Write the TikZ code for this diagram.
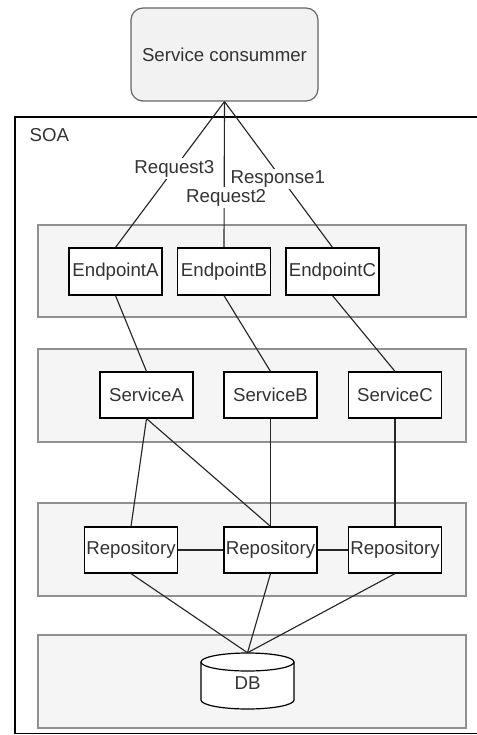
\documentclass[tikz,border=0pt]{standalone}
\usepackage{fontspec}
\setmainfont{Liberation Sans}
\definecolor{txt}{HTML}{333333}
\definecolor{panelfill}{HTML}{F5F5F5}
\definecolor{panelline}{HTML}{909090}
\definecolor{consfill}{HTML}{F2F2F2}
\definecolor{consline}{HTML}{666666}
\def\px{0.75pt}
\tikzset{
  every node/.style={font=\fontsize{14}{16}\selectfont, text=txt},
  panel/.style={draw=panelline, fill=panelfill, line width=0.9pt, minimum width=428*\px, inner sep=0pt},
  comp/.style={draw=black, fill=white, line width=0.9pt, minimum width=93*\px, minimum height=46*\px, inner sep=0pt},
  consumer/.style={draw=consline, fill=consfill, line width=0.9pt, rounded corners=9pt, minimum width=187*\px, minimum height=93*\px},
  link/.style={draw=black!85, line width=0.85pt},
  lbl/.style={fill=white, inner sep=1.5pt},
}
\begin{document}
\begin{tikzpicture}[x=\px, y=\px]
\useasboundingbox (0,0) rectangle (477,-735);
\fill[white] (0,0) rectangle (477,-735);

% outer SOA frame, running off the right edge
\begin{scope}
  \clip (0,0) rectangle (477,-735);
  \draw[black, line width=0.9pt] (15,-117) rectangle (600,-733.5);
\end{scope}
\node[anchor=west] (soa) at (25,-135) {SOA};

% layer panels
\node[panel, minimum height=92*\px] (layer1) at (252,-271) {};
\node[panel, minimum height=93*\px] (layer2) at (252,-395.5) {};
\node[panel, minimum height=93*\px] (layer3) at (252,-549.5) {};
\node[panel, minimum height=93*\px] (layer4) at (252,-681.5) {};

% service consumer
\node[consumer] (cons) at (224.5,-54.5) {Service consummer};

% endpoints
\node[comp, minimum height=47*\px] (epA) at (115.5,-271.5) {EndpointA};
\node[comp, minimum height=47*\px] (epB) at (224,-271.5) {EndpointB};
\node[comp, minimum height=47*\px] (epC) at (332.5,-271.5) {EndpointC};

% services
\node[comp] (svA) at (146.5,-395) {ServiceA};
\node[comp] (svB) at (270.5,-395) {ServiceB};
\node[comp] (svC) at (395,-395) {ServiceC};

% repositories
\node[comp] (repA) at (131,-550) {Repository};
\node[comp] (repB) at (270.5,-550) {Repository};
\node[comp] (repC) at (395,-550) {Repository};

% database cylinder
\node[minimum width=93*\px, minimum height=56*\px, inner sep=0pt] (db) at (247.5,-681) {};
\draw[black, line width=0.9pt, fill=white]
  (201,-662) -- (201,-700) arc (180:360:34.875pt and 6.75pt) -- (294,-662)
  arc (0:180:34.875pt and 6.75pt) -- cycle;
\draw[black, line width=0.9pt] (201,-662) arc (180:360:34.875pt and 6.75pt);
\node (dblabel) at (247.5,-683.5) {DB};

% consumer to endpoints
\draw[link] (cons.south) -- (epA.north) node[lbl, pos=0.46] {Request3};
\draw[link] (cons.south) -- (epB.north) node[lbl, pos=0.66, xshift=1.5pt] {Request2};
\draw[link] (cons.south) -- (epC.north) node[lbl, pos=0.53, xshift=-3pt] {Response1};

% endpoints to services
\draw[link] (epA.south) -- (svA.north);
\draw[link] (epB.south) -- (svB.north);
\draw[link] (epC.south) -- (svC.north);

% services to repositories
\draw[link] (svA.south) -- (repA.north);
\draw[link] (svA.south) -- (repB.north);
\draw[link] (svB.south) -- (repB.north);
\draw[link] (svC.south) -- (repC.north);

% repository chain
\draw[link] (repA.east) -- (repB.west);
\draw[link] (repB.east) -- (repC.west);

% repositories to database
\draw[link] (repA.south) -- (db.north);
\draw[link] (repB.south) -- (db.north);
\draw[link] (repC.south) -- (db.north);
\end{tikzpicture}
\end{document}
